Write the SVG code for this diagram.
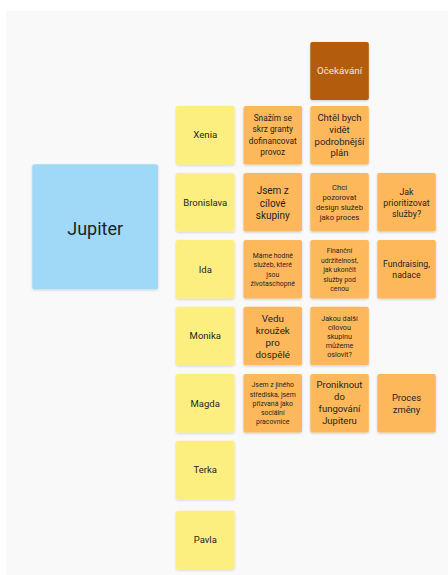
<svg xmlns="http://www.w3.org/2000/svg" width="448" height="575" viewBox="0 0 448 575">
<defs>
<filter id="sh" x="-10%" y="-10%" width="120%" height="125%">
<feDropShadow dx="0" dy="1" stdDeviation="0.8" flood-color="#000" flood-opacity="0.18"/>
</filter>
<style>
text{font-family:Roboto,"Noto Sans","Liberation Sans",sans-serif;fill:#1f1f1f;text-anchor:middle}
.y{fill:#fcef80;filter:url(#sh)}
.o{fill:#feb85c;filter:url(#sh)}
.d{fill:#b35b08;filter:url(#sh)}
.b{fill:#a0d9f7;filter:url(#sh)}
</style>
</defs>
<rect x="0" y="0" width="448" height="575" fill="#ffffff"/>
<rect x="6" y="11" width="442" height="564" fill="#f9f9f9"/>

<g id="jupiter">
<rect class="b" x="32.3" y="164.3" width="125.7" height="125" rx="2"/>
<text x="95.2" y="234.6" font-size="18">Jupiter</text>
</g>

<g id="ocekavani">
<rect class="d" x="310.3" y="42" width="58.5" height="58" rx="2"/>
<text x="339.5" y="74.4" font-size="9.8" style="fill:#f6e6d8">Očekávání</text>
</g>

<g id="xenia">
<rect class="y" x="176" y="106" width="58.5" height="58.5" rx="2"/>
<text x="205.25" y="138.4" font-size="9.7">Xenia</text>
</g>
<g id="xenia-1">
<rect class="o" x="243.5" y="106" width="58.5" height="58.5" rx="2"/>
<text font-size="8.3"><tspan x="272.75" y="121.2">Snažím se</tspan><tspan x="272.75" y="132.4">skrz granty</tspan><tspan x="272.75" y="143.6">dofinancovat</tspan><tspan x="272.75" y="154.8">provoz</tspan></text>
</g>
<g id="xenia-2">
<rect class="o" x="310.3" y="106" width="58.5" height="58.5" rx="2"/>
<text font-size="9.5"><tspan x="339.5" y="121.4">Chtěl bych</tspan><tspan x="339.5" y="133">vidět</tspan><tspan x="339.5" y="144.5">podrobnější</tspan><tspan x="339.5" y="156">plán</tspan></text>
</g>

<g id="bronislava">
<rect class="y" x="176" y="173" width="58.5" height="58.5" rx="2"/>
<text x="205.25" y="205.6" font-size="9.5">Bronislava</text>
</g>
<g id="bronislava-1">
<rect class="o" x="243.5" y="173" width="58.5" height="58.5" rx="2"/>
<text font-size="10"><tspan x="272.75" y="194.4">Jsem z</tspan><tspan x="272.75" y="206.8">cílové</tspan><tspan x="272.75" y="219.2">skupiny</tspan></text>
</g>
<g id="bronislava-2">
<rect class="o" x="310.3" y="173" width="58.5" height="58.5" rx="2"/>
<text font-size="7.7"><tspan x="339.5" y="190.4">Chci</tspan><tspan x="339.5" y="200.4">pozorovat</tspan><tspan x="339.5" y="210.4">design služeb</tspan><tspan x="339.5" y="220.4">jako proces</tspan></text>
</g>
<g id="bronislava-3">
<rect class="o" x="377.3" y="173" width="58.5" height="58.5" rx="2"/>
<text font-size="8.8"><tspan x="406.5" y="194.8">Jak</tspan><tspan x="406.5" y="205.8">prioritizovat</tspan><tspan x="406.5" y="216.6">služby?</tspan></text>
</g>

<g id="ida">
<rect class="y" x="176" y="240" width="58.5" height="58.5" rx="2"/>
<text x="205.25" y="272.6" font-size="9.5">Ida</text>
</g>
<g id="ida-1">
<rect class="o" x="243.5" y="240" width="58.5" height="58.5" rx="2"/>
<text font-size="6.9"><tspan x="272.75" y="258.1">Máme hodně</tspan><tspan x="272.75" y="267.3">služeb, které</tspan><tspan x="272.75" y="276.5">jsou</tspan><tspan x="272.75" y="285.7">životaschopné</tspan></text>
</g>
<g id="ida-2">
<rect class="o" x="310.3" y="240" width="58.5" height="58.5" rx="2"/>
<text font-size="6.8"><tspan x="339.5" y="253.1">Finanční</tspan><tspan x="339.5" y="262.7">udržitelnost,</tspan><tspan x="339.5" y="272.3">jak ukončit</tspan><tspan x="339.5" y="281.9">služby pod</tspan><tspan x="339.5" y="291.3">cenou</tspan></text>
</g>
<g id="ida-3">
<rect class="o" x="377.3" y="240" width="58.5" height="58.5" rx="2"/>
<text font-size="8.7"><tspan x="406.5" y="266.9">Fundraising,</tspan><tspan x="406.5" y="278.3">nadace</tspan></text>
</g>

<g id="monika">
<rect class="y" x="176" y="306.7" width="58.5" height="58.5" rx="2"/>
<text x="205.25" y="339.3" font-size="9.5">Monika</text>
</g>
<g id="monika-1">
<rect class="o" x="243.5" y="306.7" width="58.5" height="58.5" rx="2"/>
<text font-size="9.8"><tspan x="272.75" y="321.8">Vedu</tspan><tspan x="272.75" y="334.1">kroužek</tspan><tspan x="272.75" y="346.2">pro</tspan><tspan x="272.75" y="358">dospělé</tspan></text>
</g>
<g id="monika-2">
<rect class="o" x="310.3" y="306.7" width="58.5" height="58.5" rx="2"/>
<text font-size="7.2"><tspan x="339.5" y="321.2">Jakou další</tspan><tspan x="339.5" y="330.2">cílovou</tspan><tspan x="339.5" y="339.2">skupinu</tspan><tspan x="339.5" y="348.2">můžeme</tspan><tspan x="339.5" y="356.9">oslovit?</tspan></text>
</g>

<g id="magda">
<rect class="y" x="176" y="374" width="58.5" height="58.5" rx="2"/>
<text x="205.25" y="406.6" font-size="9.5">Magda</text>
</g>
<g id="magda-1">
<rect class="o" x="243.5" y="374" width="58.5" height="58.5" rx="2"/>
<text font-size="6.9"><tspan x="272.75" y="387.4">Jsem z jiného</tspan><tspan x="272.75" y="396.5">střediska, jsem</tspan><tspan x="272.75" y="405.8">přizvaná jako</tspan><tspan x="272.75" y="415.1">sociální</tspan><tspan x="272.75" y="424.4">pracovnice</tspan></text>
</g>
<g id="magda-2">
<rect class="o" x="310.3" y="374" width="58.5" height="58.5" rx="2"/>
<text font-size="9.5"><tspan x="339.5" y="387.7">Proniknout</tspan><tspan x="339.5" y="400.3">do</tspan><tspan x="339.5" y="412.3">fungování</tspan><tspan x="339.5" y="424.4">Jupiteru</tspan></text>
</g>
<g id="magda-3">
<rect class="o" x="377.3" y="374" width="58.5" height="58.5" rx="2"/>
<text font-size="9.4"><tspan x="406.5" y="401.1">Proces</tspan><tspan x="406.5" y="412.7">změny</tspan></text>
</g>

<g id="terka">
<rect class="y" x="176" y="440.7" width="58.5" height="58.5" rx="2"/>
<text x="205.25" y="473.3" font-size="9.5">Terka</text>
</g>
<g id="pavla">
<rect class="y" x="176" y="510.7" width="58.5" height="58.5" rx="2"/>
<text x="205.25" y="543.3" font-size="9.5">Pavla</text>
</g>

<g id="connectors"></g>
</svg>
